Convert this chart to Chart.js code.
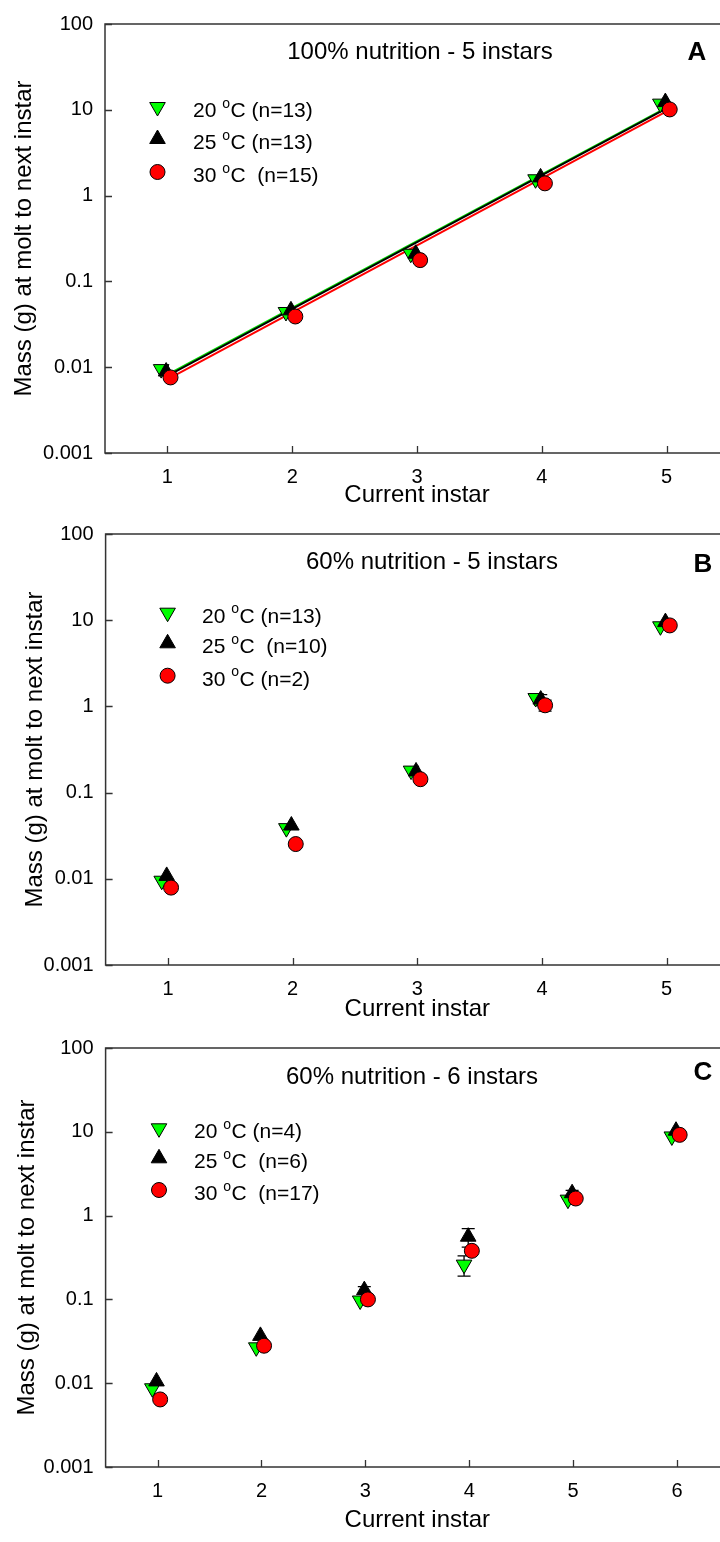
<!DOCTYPE html>
<html><head><meta charset="utf-8">
<script src="https://cdn.jsdelivr.net/npm/chart.js@4.4.1/dist/chart.umd.min.js"></script>
<style>
html,body{margin:0;padding:0;background:#fff;overflow:hidden;width:720px;height:1542px;}
#wrap{position:relative;width:720px;height:1542px;overflow:hidden;background:#fff;}
canvas{position:absolute;left:0;}
</style></head><body><div id="wrap">
<canvas id="cA" width="740" height="510" style="top:0px"></canvas>
<canvas id="cB" width="740" height="514" style="top:510px"></canvas>
<canvas id="cC" width="740" height="518" style="top:1024px"></canvas>
</div>
<script>
// ---------------- DATA ----------------
const instars5 = [1, 2, 3, 4, 5];
const instars6 = [1, 2, 3, 4, 5, 6];
const yTickValues = [0.001, 0.01, 0.1, 1, 10, 100];
const yTickLabels = ['0.001', '0.01', '0.1', '1', '10', '100'];

// Panel A: 100% nutrition - 5 instars
const massA20 = [0.0095, 0.044, 0.21, 1.55, 11.8];
const massA25 = [0.0089, 0.046, 0.21, 1.63, 12.3];
const massA30 = [0.0076, 0.039, 0.177, 1.39, 10.1];
const fitAX = [1, 5];
const fitA20 = [0.0082, 10.6];
const fitA25 = [0.0079, 10.4];
const fitA30 = [0.0072, 9.6];
const legendA = [['20 ', 'o', 'C (n=13)'], ['25 ', 'o', 'C (n=13)'], ['30 ', 'o', 'C  (n=15)']];

// Panel B: 60% nutrition - 5 instars
const massB20 = [0.0095, 0.0387, 0.18, 1.25, 8.5];
const massB25 = [0.0108, 0.0415, 0.176, 1.2, 9.5];
const massB30 = [0.0079, 0.0253, 0.143, 1.03, 8.7];
const errB20 = [0, 0, 0, 0, 0];
const errB25 = [0, 0, 0, 0.17, 0];
const errB30 = [0, 0, 0, 0.15, 0];
const legendB = [['20 ', 'o', 'C (n=13)'], ['25 ', 'o', 'C  (n=10)'], ['30 ', 'o', 'C (n=2)']];

// Panel C: 60% nutrition - 6 instars
const massC20 = [0.0087, 0.0268, 0.097, 0.26, 1.55, 8.8];
const massC25 = [0.0105, 0.0367, 0.129, 0.56, 1.85, 10.3];
const massC30 = [0.0064, 0.028, 0.1, 0.38, 1.6, 9.2];
const errC20 = [0, 0, 0, 0.07, 0, 0];
const errC25 = [0, 0, 0.013, 0.14, 0.15, 0];
const errC30 = [0, 0, 0, 0, 0, 0];
const legendC = [['20 ', 'o', 'C (n=4)'], ['25 ', 'o', 'C  (n=6)'], ['30 ', 'o', 'C  (n=17)']];

const yTitle = 'Mass (g) at molt to next instar';
const xTitle = 'Current instar';

// ---------------- STYLE ----------------
const FONT = "'Liberation Sans', Arial, Helvetica, sans-serif";
const AXIS = '#333333';
const seriesStyle = [
  { fill: '#00ff00', pointStyle: 'triangle', rotation: 180, radius: 9, dodge: -0.05, order: 3 },
  { fill: '#000000', pointStyle: 'triangle', rotation: 0, radius: 9, dodge: -0.01, order: 2 },
  { fill: '#ff0000', pointStyle: 'circle', rotation: 0, radius: 7.5, dodge: 0.025, order: 1 }
];
const lineColors = ['#00dd00', '#000000', '#ff0000'];

// ---------------- PLUGINS ----------------
const framePlugin = {
  id: 'frame',
  beforeDatasetsDraw(chart) {
    const { ctx, chartArea: a, scales } = chart;
    ctx.save();
    ctx.strokeStyle = AXIS;
    ctx.lineWidth = 1.5;
    ctx.strokeRect(a.left, a.top, a.right - a.left, a.bottom - a.top);
    ctx.lineWidth = 1.3;
    ctx.beginPath();
    scales.x.ticks.forEach(t => {
      const px = Math.round(scales.x.getPixelForValue(t.value)) + 0.5;
      ctx.moveTo(px, a.bottom); ctx.lineTo(px, a.bottom - 7);
    });
    scales.y.ticks.forEach(t => {
      const py = Math.round(scales.y.getPixelForValue(t.value)) + 0.5;
      ctx.moveTo(a.left, py); ctx.lineTo(a.left + 7, py);
    });
    ctx.stroke();
    ctx.restore();
  }
};

const errorBarPlugin = {
  id: 'errbars',
  beforeDatasetsDraw(chart) {
    const { ctx, scales } = chart;
    ctx.save();
    ctx.strokeStyle = '#000';
    ctx.lineWidth = 1.3;
    chart.data.datasets.forEach((ds) => {
      if (!ds.errorBars) return;
      ds.data.forEach((p, i) => {
        const e = ds.errorBars[i];
        if (!e) return;
        const px = scales.x.getPixelForValue(p.x);
        const yHi = scales.y.getPixelForValue(p.y + e);
        const yLo = scales.y.getPixelForValue(Math.max(p.y - e, 1e-6));
        ctx.beginPath();
        ctx.moveTo(px, yHi); ctx.lineTo(px, yLo);
        ctx.moveTo(px - 6.5, yHi); ctx.lineTo(px + 6.5, yHi);
        ctx.moveTo(px - 6.5, yLo); ctx.lineTo(px + 6.5, yLo);
        ctx.stroke();
      });
    });
    ctx.restore();
  }
};

function drawMarker(ctx, st, x, y) {
  ctx.fillStyle = st.fill;
  ctx.strokeStyle = '#000';
  ctx.lineWidth = 1;
  if (Chart.helpers && Chart.helpers.drawPoint) {
    Chart.helpers.drawPoint(ctx, { pointStyle: st.pointStyle, rotation: st.rotation, radius: st.radius, borderWidth: 1 }, x, y);
  }
}

const annotPlugin = {
  id: 'annot',
  afterDraw(chart, args, opts) {
    const { ctx } = chart;
    ctx.save();
    ctx.fillStyle = '#000';
    ctx.textAlign = 'center';
    ctx.textBaseline = 'middle';
    ctx.font = '24px ' + FONT;
    ctx.fillText(opts.title, opts.titlePos[0], opts.titlePos[1]);
    ctx.font = 'bold 26px ' + FONT;
    ctx.fillText(opts.letter, opts.letterPos[0], opts.letterPos[1]);
    // legend
    opts.legend.forEach((row, i) => {
      const y = opts.legendRows[i];
      drawMarker(ctx, seriesStyle[i], opts.legendX, y);
      ctx.fillStyle = '#000';
      ctx.textAlign = 'left';
      ctx.textBaseline = 'alphabetic';
      const base = y + 10;
      let x = opts.legendTextX;
      ctx.font = '21px ' + FONT;
      ctx.fillText(row[0], x, base);
      x += ctx.measureText(row[0]).width;
      ctx.font = '14px ' + FONT;
      ctx.fillText(row[1], x, base - 9.5);
      x += ctx.measureText(row[1]).width + 0.5;
      ctx.font = '21px ' + FONT;
      ctx.fillText(row[2], x, base);
    });
    ctx.restore();
  }
};

// ---------------- BUILD ----------------
function makePanel(p) {
  const datasets = [];
  if (p.fits) {
    p.fits.forEach((f, k) => {
      datasets.push({
        data: p.fitX.map((x, i) => ({ x: x, y: f[i] })),
        showLine: true, pointRadius: 0, borderColor: lineColors[k], borderWidth: 2,
        order: 6 - k, clip: false
      });
    });
  }
  p.series.forEach((vals, k) => {
    const st = seriesStyle[k];
    datasets.push({
      data: p.instars.map((x, i) => ({ x: x + st.dodge, y: vals[i] })),
      errorBars: p.errs ? p.errs[k] : null,
      pointStyle: st.pointStyle, rotation: st.rotation, pointRadius: st.radius,
      backgroundColor: st.fill, borderColor: '#000', borderWidth: 1,
      showLine: false, order: st.order, clip: false
    });
  });
  return new Chart(document.getElementById(p.id), {
    type: 'scatter',
    data: { datasets },
    plugins: [framePlugin, errorBarPlugin, annotPlugin],
    options: {
      responsive: false, animation: false, devicePixelRatio: 1,
      layout: { padding: { left: 0, right: 11, top: p.padTop, bottom: 0 } },
      plugins: {
        legend: { display: false }, tooltip: { enabled: false },
        annot: { title: p.title, titlePos: p.titlePos, letter: p.letter, letterPos: p.letterPos,
                 legend: p.legend, legendX: p.legendX, legendRows: p.legendRows, legendTextX: p.legendTextX }
      },
      scales: {
        x: {
          type: 'linear', min: 0.5, max: p.instars.length + 0.5,
          afterBuildTicks: s => { s.ticks = p.instars.map(v => ({ value: v })); },
          afterFit: s => { s.height = p.xAxisH; },
          ticks: { color: '#000', font: { family: FONT, size: 20 }, padding: 12, callback: v => String(v) },
          grid: { display: false, drawTicks: false }, border: { display: false },
          title: { display: true, text: xTitle, color: '#000', font: { family: FONT, size: 24 },
                   padding: { top: 0, bottom: p.xTitlePad } }
        },
        y: {
          type: 'logarithmic', min: 0.001, max: 100,
          afterBuildTicks: s => { s.ticks = yTickValues.map(v => ({ value: v })); },
          afterFit: s => { s.width = p.yAxisW; },
          ticks: { color: '#000', font: { family: FONT, size: 20 }, padding: 12,
                   callback: (v, i) => yTickLabels[i] },
          grid: { display: false, drawTicks: false }, border: { display: false },
          title: { display: true, text: yTitle, color: '#000', font: { family: FONT, size: 24 },
                   padding: { top: p.yTitlePad, bottom: 0 } }
        }
      }
    }
  });
}

makePanel({
  id: 'cA', instars: instars5, series: [massA20, massA25, massA30], errs: null,
  fits: [fitA20, fitA25, fitA30], fitX: fitAX,
  padTop: 17, xAxisH: 57, xTitlePad: 0, yAxisW: 105, yTitlePad: 9.6,
  title: '100% nutrition - 5 instars', titlePos: [420, 52], letter: 'A', letterPos: [697, 53],
  legend: legendA, legendX: 157.5, legendRows: [107, 139, 172], legendTextX: 193
});
makePanel({
  id: 'cB', instars: instars5, series: [massB20, massB25, massB30], errs: [errB20, errB25, errB30],
  fits: null,
  padTop: 19, xAxisH: 59, xTitlePad: 0, yAxisW: 105.6, yTitlePad: 20.6,
  title: '60% nutrition - 5 instars', titlePos: [432, 52], letter: 'B', letterPos: [703, 55],
  legend: legendB, legendX: 167.6, legendRows: [102.7, 133.3, 165.7], legendTextX: 202
});
makePanel({
  id: 'cC', instars: instars6, series: [massC20, massC25, massC30], errs: [errC20, errC25, errC30],
  fits: null,
  padTop: 15, xAxisH: 75, xTitlePad: 7.6, yAxisW: 105.6, yTitlePad: 12.6,
  title: '60% nutrition - 6 instars', titlePos: [412, 53], letter: 'C', letterPos: [703, 49],
  legend: legendC, legendX: 159, legendRows: [104.3, 134.3, 166], legendTextX: 194
});
</script>
</body></html>
